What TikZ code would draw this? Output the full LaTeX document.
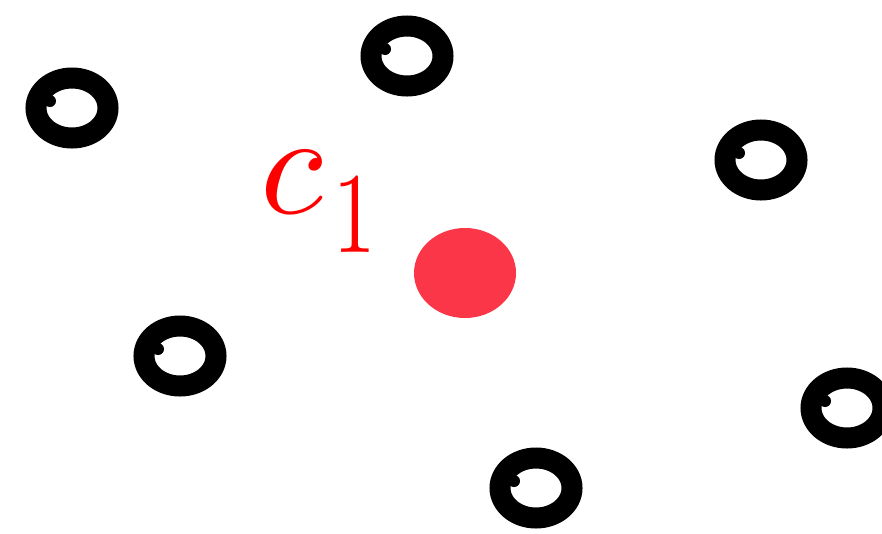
\documentclass[tikz,border=0pt]{standalone}
\usepackage{tikz}
\definecolor{blobred}{RGB}{250,54,72}
\tikzset{ring/.style={line width=21pt, black},
         dent/.style={fill=black},
         label/.style={anchor=base west, inner sep=0pt, text=red}}

\begin{document}
\begin{tikzpicture}[x=1pt, y=-1pt]
    \useasboundingbox (0,0) rectangle (882,533);
    % the data points
    \foreach \px/\py in {72/108, 407/56, 761/160, 180/356, 536/488, 847/408} {
        \draw[ring] (\px,\py) ellipse (36pt and 30pt);
        \fill[dent] (\px-22,\py-7) circle (6pt);
    }
    % the centre
    \fill[blobred] (465,273) ellipse (51pt and 45pt);
    \node[label, scale=14.5] (c) at (258,213) {$c$};
    \node[label, xscale=8.5, yscale=11.5] (one) at (332,252) {$1$};
\end{tikzpicture}
\end{document}
